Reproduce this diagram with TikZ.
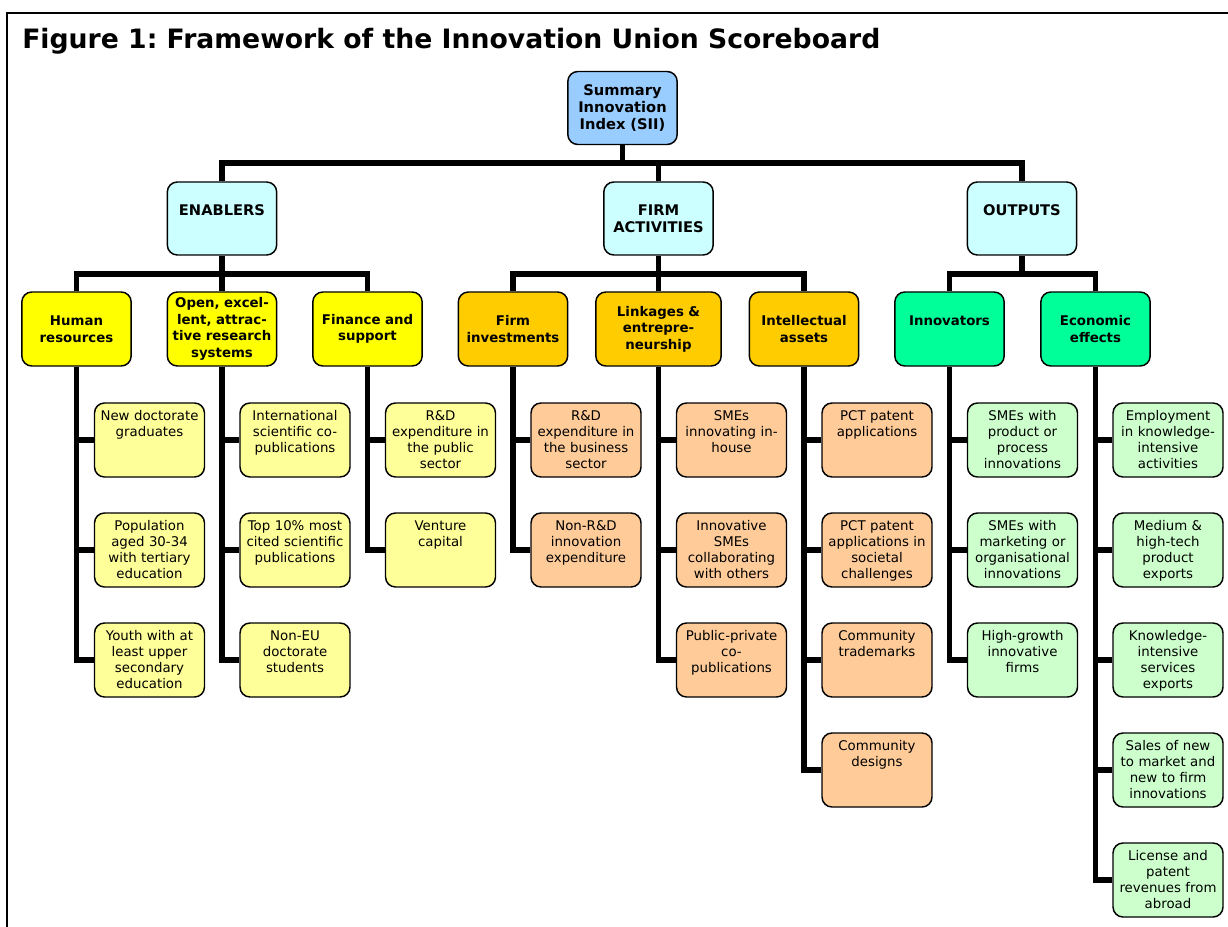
\documentclass[tikz,border=0pt]{standalone}
\usepackage{fontspec}
\setmainfont{DejaVu Sans}
\frenchspacing

\definecolor{sumblue}{HTML}{99CCFF}
\definecolor{pillarcyan}{HTML}{CCFFFF}
\definecolor{enablerdim}{HTML}{FFFF00}
\definecolor{firmdim}{HTML}{FFCC00}
\definecolor{outputdim}{HTML}{00FF99}
\definecolor{enablerleaf}{HTML}{FFFF99}
\definecolor{firmleaf}{HTML}{FFCC99}
\definecolor{outputleaf}{HTML}{CCFFCC}

\tikzset{
  box/.style={draw, line width=1.1pt, rounded corners=7.5pt, align=center, inner sep=2pt},
  topbox/.style={box, text width=78pt, minimum width=82pt, minimum height=54.75pt,
    font=\bfseries\fontsize{11}{12.75}\selectfont},
  dimbox/.style={box, text width=78pt, minimum width=82pt, minimum height=55.5pt,
    font=\bfseries\fontsize{10}{12.4}\selectfont},
  leafbox/.style={box, text width=78pt, minimum width=82.5pt, minimum height=55.5pt,
    text height=10.3pt, text depth=39pt, font=\fontsize{10}{12}\selectfont},
  bar/.style={line width=4pt},
  frameline/.style={line width=1.6pt}
}

\begin{document}
\begin{tikzpicture}[x=0.75pt,y=-0.75pt]
\useasboundingbox (0,0) rectangle (1228,927);
\draw[frameline] (7,927) -- (7,13) -- (1228,13);
\node[anchor=base west, inner sep=0pt, font=\bfseries\fontsize{20}{24}\selectfont] (title) at (22,49)
  {Figure 1: Framework of the Innovation Union Scoreboard};

\node[topbox, fill=sumblue] (sii) at (622.5,108) {Summary\\Innovation\\Index (SII)};
\node[topbox, fill=pillarcyan] (enablers) at (222,218.5) {ENABLERS\\\mbox{}};
\node[topbox, fill=pillarcyan] (firmact) at (658.5,218.5) {FIRM\\ACTIVITIES};
\node[topbox, fill=pillarcyan] (outputs) at (1022,218.5) {OUTPUTS\\\mbox{}};

\node[dimbox, fill=enablerdim] (human) at (76.5,329) {Human\\resources};
\node[dimbox, fill=enablerdim] (research) at (222,329) {Open, excel-\\lent, attrac-\\tive research\\systems};
\node[dimbox, fill=enablerdim] (finance) at (367.5,329) {Finance and\\support};
\node[dimbox, fill=firmdim] (firminv) at (513,329) {Firm\\investments};
\node[dimbox, fill=firmdim, text width=90pt, minimum width=94pt] (linkages) at (658.5,329) {Linkages \&\\entrepre-\\neurship};
\node[dimbox, fill=firmdim] (intellect) at (804,329) {Intellectual\\assets};
\node[dimbox, fill=outputdim] (innovators) at (949.5,329) {Innovators\\\mbox{}};
\node[dimbox, fill=outputdim] (econ) at (1095.5,329) {Economic\\effects};

\node[leafbox, fill=enablerleaf] (hr1) at (149.5,440) {New doctorate\\graduates};
\node[leafbox, fill=enablerleaf] (hr2) at (149.5,550) {Population\\aged 30-34\\with tertiary\\education};
\node[leafbox, fill=enablerleaf] (hr3) at (149.5,660) {Youth with at\\least upper\\secondary\\education};
\node[leafbox, fill=enablerleaf] (rs1) at (295,440) {International\\scientific co-\\publications};
\node[leafbox, fill=enablerleaf] (rs2) at (295,550) {Top 10\% most\\cited scientific\\publications};
\node[leafbox, fill=enablerleaf] (rs3) at (295,660) {Non-EU\\doctorate\\students};
\node[leafbox, fill=enablerleaf] (fs1) at (440.5,440) {R\&D\\expenditure in\\the public\\sector};
\node[leafbox, fill=enablerleaf] (fs2) at (440.5,550) {Venture\\capital};

\node[leafbox, fill=firmleaf] (fi1) at (586,440) {R\&D\\expenditure in\\the business\\sector};
\node[leafbox, fill=firmleaf] (fi2) at (586,550) {Non-R\&D\\innovation\\expenditure};
\node[leafbox, fill=firmleaf] (le1) at (731.5,440) {SMEs\\innovating in-\\house};
\node[leafbox, fill=firmleaf] (le2) at (731.5,550) {Innovative\\SMEs\\collaborating\\with others};
\node[leafbox, fill=firmleaf] (le3) at (731.5,660) {Public-private\\co-\\publications};
\node[leafbox, fill=firmleaf] (ia1) at (877,440) {PCT patent\\applications};
\node[leafbox, fill=firmleaf] (ia2) at (877,550) {PCT patent\\applications in\\societal\\challenges};
\node[leafbox, fill=firmleaf] (ia3) at (877,660) {Community\\trademarks};
\node[leafbox, fill=firmleaf] (ia4) at (877,770) {Community\\designs};

\node[leafbox, fill=outputleaf] (in1) at (1022.5,440) {SMEs with\\product or\\process\\innovations};
\node[leafbox, fill=outputleaf] (in2) at (1022.5,550) {SMEs with\\marketing or\\organisational\\innovations};
\node[leafbox, fill=outputleaf] (in3) at (1022.5,660) {High-growth\\innovative\\firms};
\node[leafbox, fill=outputleaf] (ee1) at (1168,440) {Employment\\in knowledge-\\intensive\\activities};
\node[leafbox, fill=outputleaf] (ee2) at (1168,550) {Medium \&\\high-tech\\product\\exports};
\node[leafbox, fill=outputleaf] (ee3) at (1168,660) {Knowledge-\\intensive\\services\\exports};
\node[leafbox, fill=outputleaf] (ee4) at (1168,770) {Sales of new\\to market and\\new to firm\\innovations};
\node[leafbox, fill=outputleaf] (ee5) at (1168,880) {License and\\patent\\revenues from\\abroad};

\coordinate (topbar) at (622.5,163);
\draw[bar] (sii.south) -- (topbar);
\draw[bar] (enablers.north) |- (topbar) -| (outputs.north);
\draw[bar] (topbar -| firmact.north) -- (firmact.north);

\coordinate (enbar) at (222,274);
\draw[bar] (human.north) |- (enbar) -| (finance.north);
\draw[bar] (enablers.south) -- (research.north);
\coordinate (fabar) at (658.5,274);
\draw[bar] (firminv.north) |- (fabar) -| (intellect.north);
\draw[bar] (firmact.south) -- (linkages.north);
\coordinate (oubar) at (1022,274);
\draw[bar] (innovators.north) |- (oubar) -| (econ.north);
\draw[bar] (outputs.south) -- (oubar);

\draw[bar] (human.south) |- (hr3.west);
\draw[bar] (human.south |- hr1.west) -- (hr1.west);
\draw[bar] (human.south |- hr2.west) -- (hr2.west);
\draw[bar] (research.south) |- (rs3.west);
\draw[bar] (research.south |- rs1.west) -- (rs1.west);
\draw[bar] (research.south |- rs2.west) -- (rs2.west);
\draw[bar] (finance.south) |- (fs2.west);
\draw[bar] (finance.south |- fs1.west) -- (fs1.west);

\draw[bar] (firminv.south) |- (fi2.west);
\draw[bar] (firminv.south |- fi1.west) -- (fi1.west);
\draw[bar] (linkages.south) |- (le3.west);
\draw[bar] (linkages.south |- le1.west) -- (le1.west);
\draw[bar] (linkages.south |- le2.west) -- (le2.west);
\draw[bar] (intellect.south) |- (ia4.west);
\draw[bar] (intellect.south |- ia1.west) -- (ia1.west);
\draw[bar] (intellect.south |- ia2.west) -- (ia2.west);
\draw[bar] (intellect.south |- ia3.west) -- (ia3.west);

\draw[bar] (innovators.south) |- (in3.west);
\draw[bar] (innovators.south |- in1.west) -- (in1.west);
\draw[bar] (innovators.south |- in2.west) -- (in2.west);
\draw[bar] (econ.south) |- (ee5.west);
\draw[bar] (econ.south |- ee1.west) -- (ee1.west);
\draw[bar] (econ.south |- ee2.west) -- (ee2.west);
\draw[bar] (econ.south |- ee3.west) -- (ee3.west);
\draw[bar] (econ.south |- ee4.west) -- (ee4.west);
\end{tikzpicture}
\end{document}
